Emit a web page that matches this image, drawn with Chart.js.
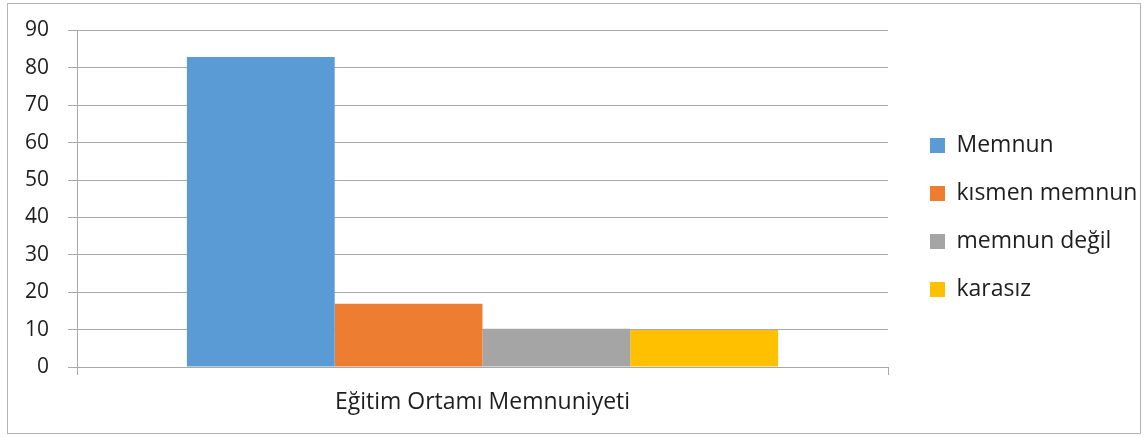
<!DOCTYPE html>
<html>
<head>
<meta charset="utf-8">
<script src="https://cdn.jsdelivr.net/npm/chart.js@4"></script>
<style>
  body { margin: 0; background: #fff; }
  #box {
    position: absolute; left: 7px; top: 3px;
    width: 1134px; height: 431px;
    box-sizing: border-box; border: 1px solid #b4b4b4;
  }
</style>
</head>
<body>
<div id="box"><canvas id="myChart" width="1132" height="429"></canvas></div>
<script>
// Data
const categories = ["Eğitim Ortamı Memnuniyeti"];
const seriesNames = ["Memnun", "kısmen memnun", "memnun değil", "karasız"];
const memnun = [82.9];
const kismenMemnun = [16.9];
const memnunDegil = [10.2];
const karasiz = [9.9];
const yTicks = [0, 10, 20, 30, 40, 50, 60, 70, 80, 90];

const colors = ["#5B9BD5", "#ED7D31", "#A5A5A5", "#FFC000"];
const gridColor = "#a9a9a9";
const textColor = "#1e1e1e";

// legend: fixed width, full canvas height, nudged right of the plot
const legendTweak = {
  id: "legendTweak",
  beforeInit(chart) {
    const fit = chart.legend.fit;
    chart.legend.fit = function () {
      fit.call(this);
      this.width = 252;
    };
  },
  afterLayout(chart) {
    const lg = chart.legend;
    lg.left += 17;
    lg.right += 17;
    lg.top = -1;
    lg.bottom = chart.height - 1;
  }
};

const ctx = document.getElementById("myChart").getContext("2d");
const myChart = new Chart(ctx, {
  type: "bar",
  data: {
    labels: categories,
    datasets: [memnun, kismenMemnun, memnunDegil, karasiz].map((d, i) => ({
      label: seriesNames[i],
      data: d,
      backgroundColor: colors[i],
      borderWidth: 0,
      categoryPercentage: 0.729,
      barPercentage: 1
    }))
  },
  options: {
    responsive: false,
    animation: false,
    layout: { padding: { top: 26.5, right: 0, bottom: 0, left: 0 } },
    plugins: {
      tooltip: { enabled: false },
      legend: {
        position: "right",
        labels: {
          boxWidth: 15,
          boxHeight: 15,
          padding: 25,
          color: textColor,
          font: { family: "'Open Sans'", size: 23 }
        }
      }
    },
    scales: {
      x: {
        afterFit(scale) { scale.height = 66; },
        grid: { drawOnChartArea: false, drawTicks: true, tickLength: 8, color: gridColor },
        border: { display: true, color: gridColor },
        ticks: { color: textColor, padding: 14, font: { family: "'Open Sans'", size: 23 } }
      },
      y: {
        min: 0,
        max: 90,
        afterFit(scale) {
          scale.width = 69;
          scale.paddingTop = 0;
          scale.paddingBottom = 0;
        },
        afterBuildTicks(scale) { scale.ticks = yTicks.map(v => ({ value: v })); },
        grid: { color: gridColor, tickLength: 9 },
        border: { display: true, color: gridColor },
        ticks: { color: textColor, padding: 19, font: { family: "'Open Sans'", size: 21 } }
      }
    }
  },
  plugins: [legendTweak]
});
</script>
</body>
</html>
